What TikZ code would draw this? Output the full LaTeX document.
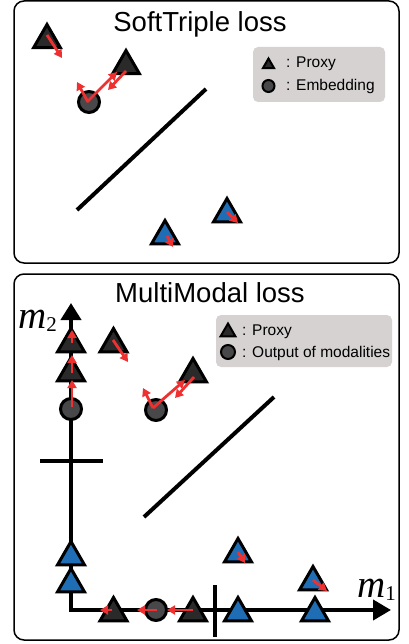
\documentclass[tikz,border=0pt]{standalone}
\usepackage[no-math]{fontspec}
\newfontfamily\arial{Liberation Sans}
\newfontfamily\tnr{Liberation Serif}
\usetikzlibrary{shapes.geometric,arrows.meta}
\definecolor{tridark}{HTML}{2A2A2A}
\definecolor{circdark}{HTML}{48484B}
\definecolor{triblue}{HTML}{1F6DB4}
\definecolor{redarr}{HTML}{EE3030}
\definecolor{leggray}{HTML}{D6D2D2}
\newcommand{\axlab}[2]{{\tnr\fontsize{39}{39}\selectfont\itshape #1}\raisebox{-3pt}{\tnr\fontsize{21}{21}\selectfont #2}}
\begin{document}
\begin{tikzpicture}[x=1pt,y=-1pt,
  tri/.style={regular polygon, regular polygon sides=3, minimum size=31pt, inner sep=0pt, draw=black, line width=3pt, fill=tridark},
  btri/.style={tri, fill=triblue},
  emb/.style={circle, minimum size=21pt, inner sep=0pt, draw=black, line width=3pt, fill=circdark},
  panel/.style={draw=black, line width=1.5pt, rounded corners=10pt},
  legbox/.style={fill=leggray, rounded corners=5pt},
  ra/.style={draw=redarr, line width=2.8pt, -{Triangle[length=8pt,width=9pt]}},
  axisline/.style={line width=4pt},
  title/.style={font=\arial\fontsize{27.5}{30}\selectfont, anchor=base, inner sep=0pt},
  legtxt/.style={font=\arial\fontsize{15.5}{18}\selectfont, anchor=base west, inner sep=0pt},
  mlabel/.style={anchor=base west, inner sep=0pt}]
\useasboundingbox (0,0) rectangle (408,644);

% ---------------- top panel ----------------
\draw[panel] (14,1) rectangle (399,263);
\node[title] (t1title) at (200,32) {SoftTriple loss};
\fill[legbox] (253,47) rectangle (385,102);
\node[tri, minimum size=13pt, line width=2pt] (lt1) at (268.5,65) {};
\node[emb, minimum size=12pt, line width=2pt] (lc1) at (268.5,86) {};
\node[legtxt] (lp1) at (286,68) {: Proxy};
\node[legtxt] (le1) at (286,91) {: Embedding};

\draw[line width=4pt] (77,210) -- (206,89);

\node[tri] (ta) at (47,40) {};
\node[tri] (tb) at (126,66) {};
\node[emb] (ca) at (89,102) {};
\node[btri] (ba) at (165,236) {};
\node[btri] (bb) at (227,214) {};

\draw[ra] (47,35) -- (62,58);
\draw[ra] (88,102) -- (77,82);
\draw[ra] (87,102) -- (117,72);
\draw[ra] (126,71) -- (108,90);
\draw[ra] (167,236) -- (173,247);
\draw[ra] (227,212) -- (238,223);

% ---------------- bottom panel ----------------
\draw[panel] (14,274) rectangle (399,640);
\node[title] (t2title) at (210,302) {MultiModal loss};
\fill[legbox] (216,315) rectangle (392,367);
\node[tri, minimum size=17pt, line width=2pt] (lt2) at (228,332) {};
\node[emb, minimum size=14pt, line width=2pt] (lc2) at (228,352) {};
\node[legtxt] (lp2) at (242,335) {: Proxy};
\node[legtxt] (lo2) at (242,357) {: Output of modalities};

% axes
\draw[axisline, {Triangle[length=17pt,width=20pt]}-{Triangle[length=18pt,width=20pt]}]
  (71,303) -- (71,610) -- (391,610);
\draw[axisline] (40,461) -- (103,461);
\draw[axisline] (215,585) -- (215,637);
\node[mlabel] (m2) at (18,328) {\axlab{m}{2}};
\node[mlabel] (m1) at (357,597) {\axlab{m}{1}};

\draw[line width=4pt] (144,517) -- (274,397);

% vertical axis shapes
\node[tri] (v1) at (71,344) {};
\node[tri] (v2) at (71,373) {};
\node[emb] (vc) at (71,409) {};
\node[btri] (v3) at (71,557) {};
\node[btri] (v4) at (71,584) {};

% free shapes
\node[tri] (f1) at (113.5,344) {};
\node[emb] (fc) at (156,410) {};
\node[tri] (f2) at (193,374) {};
\node[btri] (f3) at (238,554) {};
\node[btri] (f4) at (313,582) {};

% horizontal axis shapes
\node[tri] (h1) at (113.5,613) {};
\node[emb] (hc) at (156,610) {};
\node[tri] (h2) at (193,613) {};
\node[btri] (h3) at (238,613) {};
\node[btri] (h4) at (315,613) {};

% red arrows
\draw[ra] (72,407) -- (72,380);
\draw[ra] (72,373) -- (72,355);
\draw[ra] (72,343) -- (72,330);
\draw[ra] (113,340) -- (128,362);
\draw[ra] (153,408) -- (143,388);
\draw[ra] (153,408) -- (185,380);
\draw[ra] (194,377) -- (175,398);
\draw[ra] (238,552) -- (245,563);
\draw[ra] (313,580) -- (327,591);
\draw[ra] (193,610) -- (167,610);
\draw[ra] (157,610) -- (137,610);
\draw[ra] (112,610) -- (100,610);
\end{tikzpicture}
\end{document}
